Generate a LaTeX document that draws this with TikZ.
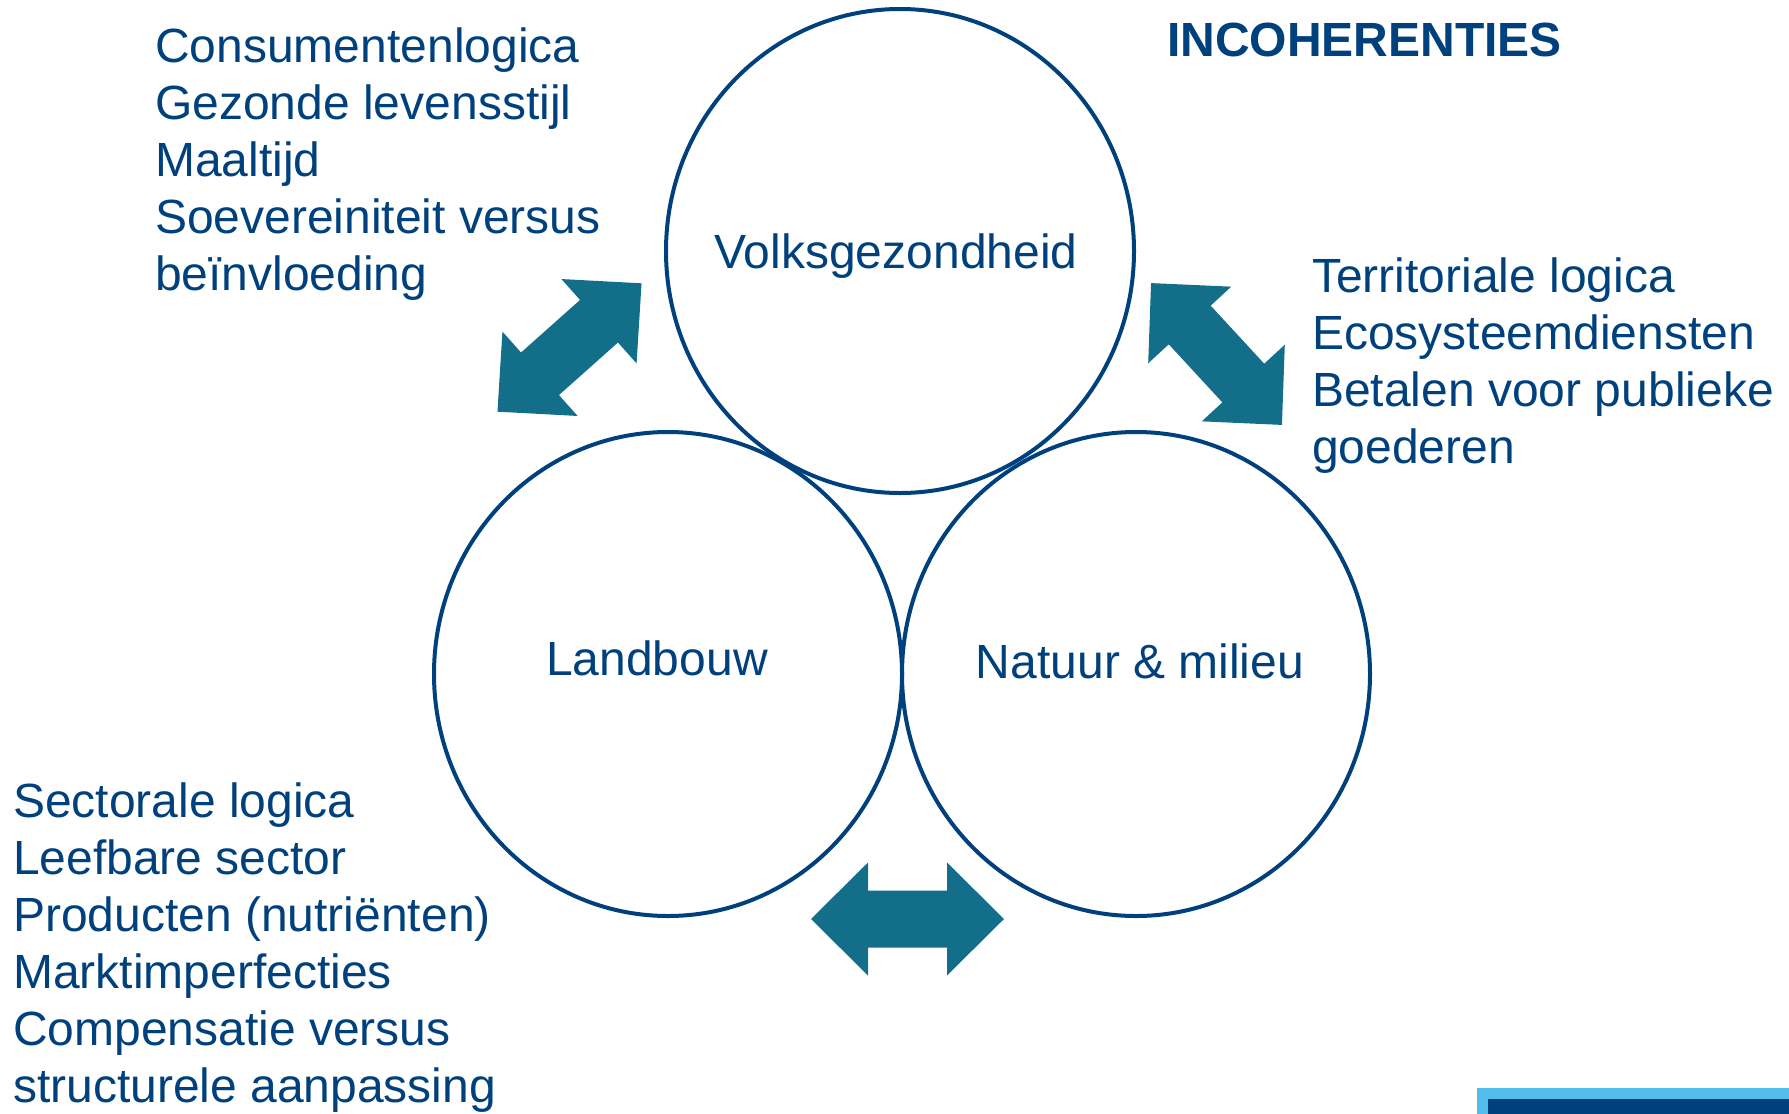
\documentclass[tikz,border=0pt]{standalone}
\usepackage{fontspec}
\setmainfont{Liberation Sans}
\definecolor{dblue}{RGB}{0,65,125}
\definecolor{teal}{RGB}{19,110,138}
\definecolor{lblue}{RGB}{82,189,234}
\tikzset{
  circ/.style={draw=dblue, line width=4pt},
  lbl/.style={text=dblue, inner sep=0pt, anchor=base west, font=\fontsize{48}{57}\selectfont},
  clbl/.style={text=dblue, inner sep=0pt, anchor=base, font=\fontsize{48}{57}\selectfont},
  dblarrow/.pic={\fill[teal] (-96.5,0) -- (-39.5,56.5) -- (-39.5,28.5) -- (39.5,28.5) -- (39.5,56.5) -- (96.5,0) -- (39.5,-56.5) -- (39.5,-28.5) -- (-39.5,-28.5) -- (-39.5,-56.5) -- cycle;}
}
\begin{document}
\begin{tikzpicture}[x=1pt,y=-1pt]
\useasboundingbox (0,0) rectangle (1789,1114);
% circles
\draw[circ] (900,251) ellipse [x radius=234, y radius=242];
\draw[circ] (668,674) ellipse [x radius=234, y radius=242];
\draw[circ] (1136,674) ellipse [x radius=234, y radius=242];
\node[clbl] (volks) at (896,268) {Volksgezondheid};
\node[clbl] (land) at (657,675) {Landbouw};
\node[clbl] (nat) at (1140,678) {Natuur \& milieu};
% arrows
\pic[rotate=41.7] at (569.5,347.5) {dblarrow};
\pic[rotate=-47.3] at (1216.5,354) {dblarrow};
\pic at (907.5,919) {dblarrow};
% title
\node[lbl, font=\fontsize{48}{57}\selectfont\bfseries] (title) at (1167,56) {INCOHERENTIES};
% text blocks
\foreach \t [count=\i] in {Consumentenlogica, Gezonde levensstijl, Maaltijd, Soevereiniteit versus, beïnvloeding}
  \node[lbl] (tl\i) at (155,{62+57*(\i-1)}) {\t};
\foreach \t [count=\i] in {Territoriale logica, Ecosysteemdiensten, Betalen voor publieke, goederen}
  \node[lbl] (tr\i) at (1312,{292+57*(\i-1)}) {\t};
\foreach \t [count=\i] in {Sectorale logica, Leefbare sector, Producten (nutriënten), Marktimperfecties, Compensatie versus, structurele aanpassing}
  \node[lbl] (bl\i) at (13,{817+57*(\i-1)}) {\t};
% corner bar
\fill[lblue] (1477,1088) rectangle (1789,1114);
\fill[dblue] (1488,1099) rectangle (1789,1114);
\end{tikzpicture}
\end{document}
